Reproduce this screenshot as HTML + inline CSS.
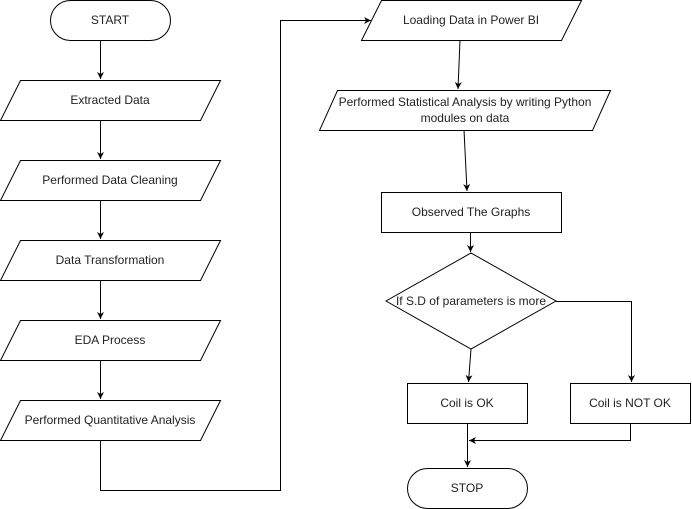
<!DOCTYPE html>
<html><head><style>
html,body{margin:0;padding:0;background:#fff;}
svg{display:block;}
text{font-family:"Liberation Sans",Arial,sans-serif;font-size:12px;fill:#222;text-anchor:middle;}
</style></head><body>
<svg width="692" height="509" viewBox="0 0 692 509" xmlns="http://www.w3.org/2000/svg">
<defs><marker id="a" markerWidth="8" markerHeight="8" refX="7" refY="4" orient="auto" markerUnits="userSpaceOnUse"><path d="M0,0.5 L7,4 L0,7.5 L2,4 Z" fill="#000"/></marker></defs>
<g fill="#fff" stroke="#000" stroke-width="1">
<rect x="50.5" y="0.5" width="120" height="40" rx="20"/>
<polygon points="20.5,80.5 220.5,80.5 200.5,120.5 0.5,120.5"/>
<polygon points="20.5,160.5 220.5,160.5 200.5,200.5 0.5,200.5"/>
<polygon points="20.5,240.5 220.5,240.5 200.5,280.5 0.5,280.5"/>
<polygon points="20.5,320.5 220.5,320.5 200.5,360.5 0.5,360.5"/>
<polygon points="20.5,400.5 220.5,400.5 200.5,440.5 0.5,440.5"/>
<polygon points="381.5,0.5 581.5,0.5 561.5,40.5 361.5,40.5"/>
<polygon points="337.5,90.5 610.5,90.5 592.5,130.5 319.5,130.5"/>
<rect x="381.5" y="192.5" width="180" height="40"/>
<polygon points="471,253 556,301 471,349 386,301"/>
<rect x="407.5" y="383.5" width="120" height="40"/>
<rect x="570.5" y="383.5" width="120" height="40"/>
<rect x="407.5" y="468.5" width="120" height="40" rx="20"/>
</g>
<g fill="none" stroke="#000" stroke-width="1">
<path d="M100.5,40 V79" marker-end="url(#a)"/>
<path d="M100.5,120 V159" marker-end="url(#a)"/>
<path d="M100.5,200 V239" marker-end="url(#a)"/>
<path d="M100.5,280 V319" marker-end="url(#a)"/>
<path d="M100.5,360 V399" marker-end="url(#a)"/>
<path d="M100.5,440 V490.5 H280.5 V20.5 H371" marker-end="url(#a)"/>
<path d="M460,40 L458,89" marker-end="url(#a)"/>
<path d="M464,130 L467,191" marker-end="url(#a)"/>
<path d="M470.5,232 V252" marker-end="url(#a)"/>
<path d="M471,349 L468.5,382" marker-end="url(#a)"/>
<path d="M556,301.5 H631.5 V382" marker-end="url(#a)"/>
<path d="M467.5,423 V467" marker-end="url(#a)"/>
<path d="M630.5,423 V440.5 H469" marker-end="url(#a)"/>
</g>
<text x="110" y="24">START</text>
<text x="110" y="104">Extracted Data</text>
<text x="110" y="184">Performed Data Cleaning</text>
<text x="110" y="264">Data Transformation</text>
<text x="110" y="344">EDA Process</text>
<text x="110" y="424">Performed Quantitative Analysis</text>
<text x="471" y="24">Loading Data in Power BI</text>
<text x="465" y="106">Performed Statistical Analysis by writing Python</text>
<text x="465" y="122">modules on data</text>
<text x="471" y="216">Observed The Graphs</text>
<text x="471" y="305">If S.D of parameters is more</text>
<text x="467" y="407">Coil is OK</text>
<text x="630" y="407">Coil is NOT OK</text>
<text x="467" y="492">STOP</text>
</svg>
</body></html>
